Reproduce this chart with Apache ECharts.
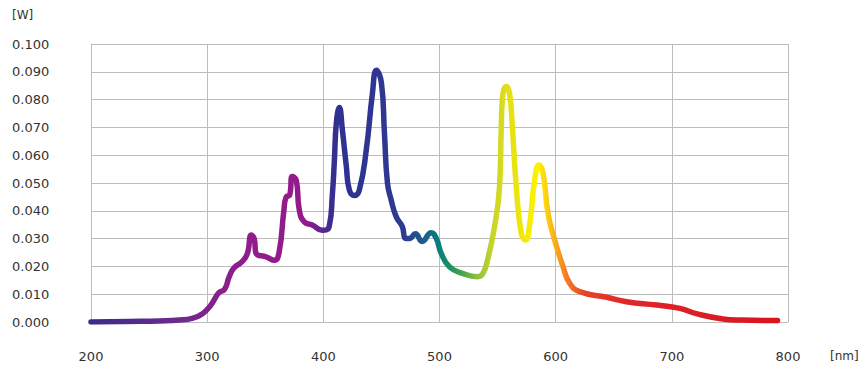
<!DOCTYPE html>
<html>
<head>
<meta charset="utf-8">
<script src="https://cdn.jsdelivr.net/npm/echarts@6/dist/echarts.min.js"></script>
<style>
html,body{margin:0;padding:0;background:#fff;}
#chart{width:866px;height:374px;}
</style>
</head>
<body>
<div id="chart"></div>
<script>
// Wavelength (nm)
var wavelengths = [200, 233, 259, 276, 287, 296, 303, 310, 315, 319, 323, 330, 334.5, 338, 340.5, 342, 351, 358, 362, 366, 368, 371, 373.3, 376.7, 379.3, 383.6, 390.5, 399, 405, 407.8, 409.5, 411.2, 413.8, 416.4, 419.8, 422.4, 426.7, 431, 437, 442.2, 445.7, 450, 452.6, 455.2, 458.4, 462.7, 468, 470.7, 474, 479.3, 485, 492.8, 497.2, 501.5, 508.6, 519.8, 532.8, 537.1, 541.4, 547.4, 551.7, 553.2, 554.3, 557.5, 560.3, 562.7, 566.1, 570.4, 574.1, 577.6, 581.9, 585.6, 589.1, 593.4, 599.1, 606.3, 612.1, 620.7, 644, 661, 687, 707, 722, 744, 759, 791];
// Power (W)
var power = [0, 0.0002, 0.0004, 0.0007, 0.0013, 0.0030, 0.006, 0.0105, 0.0118, 0.0163, 0.0194, 0.0217, 0.0245, 0.0313, 0.030, 0.0248, 0.0234, 0.0222, 0.0253, 0.040, 0.045, 0.0457, 0.0523, 0.051, 0.0403, 0.036, 0.0349, 0.033, 0.0343, 0.046, 0.058, 0.0716, 0.0772, 0.069, 0.056, 0.0475, 0.0455, 0.0475, 0.062, 0.082, 0.0906, 0.086, 0.068, 0.050, 0.0439, 0.0379, 0.0343, 0.0301, 0.030, 0.0317, 0.029, 0.0321, 0.0301, 0.0247, 0.0199, 0.0175, 0.0163, 0.0172, 0.0223, 0.0343, 0.0487, 0.0703, 0.081, 0.0847, 0.0822, 0.0703, 0.0487, 0.0319, 0.0295, 0.035, 0.0511, 0.0565, 0.0535, 0.039, 0.0295, 0.0199, 0.0139, 0.0109, 0.0089, 0.0073, 0.0061, 0.0049, 0.0029, 0.0011, 0.0007, 0.0005];
// Colour stops along the spectrum (nm -> colour)
var colorStopNm = [200, 280, 315, 385, 402, 412, 470, 485, 498, 507, 518, 532, 545, 560, 585, 598, 610, 625, 660, 791];
var colorStopColors = ['#3a2e88', '#6e2a8e', '#8c1e8b', '#951a8a', '#4a2a8e', '#2e3192', '#2e3a92', '#1e5a8c', '#0a7a82', '#109068', '#3fa24a', '#8cc03c', '#c6d42c', '#e4e014', '#fff200', '#f9b51a', '#f47a24', '#e8432a', '#e1262a', '#d8141e'];
var xTicks = [200, 300, 400, 500, 600, 700, 800];
var yTickLabels = ['0.000','0.010','0.020','0.030','0.040','0.050','0.060','0.070','0.080','0.090','0.100'];

var seriesData = wavelengths.map(function (w, i) { return [w, power[i]]; });
var nmFirst = wavelengths[0], nmLast = wavelengths[wavelengths.length - 1];
var stops = colorStopNm.map(function (n, i) {
  return { offset: Math.min(1, Math.max(0, (n - nmFirst) / (nmLast - nmFirst))), color: colorStopColors[i] };
});

var chart = echarts.init(document.getElementById('chart'), null, { renderer: 'svg' });
var font = '"DejaVu Sans", sans-serif';
var gridColor = '#bdbdbd';
chart.setOption({
  animation: false,
  backgroundColor: '#ffffff',
  grid: { left: 91, right: 78, top: 44, bottom: 52, containLabel: false },
  xAxis: {
    type: 'value', min: xTicks[0], max: xTicks[xTicks.length - 1], interval: 100,
    axisLine: { show: true, lineStyle: { color: gridColor, width: 1 } },
    axisTick: { show: false },
    splitLine: { show: true, lineStyle: { color: gridColor, width: 1 } },
    axisLabel: { margin: 28, color: '#333', fontFamily: font, fontSize: 13 }
  },
  yAxis: {
    type: 'value', min: 0, max: 0.1, interval: 0.01,
    axisLine: { show: true, lineStyle: { color: gridColor, width: 1 } },
    axisTick: { show: false },
    splitLine: { show: true, lineStyle: { color: gridColor, width: 1 } },
    axisLabel: {
      margin: 79, align: 'left', color: '#333', fontFamily: font, fontSize: 13,
      formatter: function (v) { return yTickLabels[Math.round(v * 100)]; }
    }
  },
  graphic: [
    { type: 'text', left: 12, top: 9, style: { text: '[W]', fill: '#333', font: '12px ' + font } },
    { type: 'text', left: 830, top: 350, style: { text: '[nm]', fill: '#333', font: '12px ' + font } }
  ],
  series: [{
    type: 'line',
    data: seriesData,
    showSymbol: false,
    smooth: 0.5,
    lineStyle: {
      width: 5.5, cap: 'round', join: 'round',
      color: new echarts.graphic.LinearGradient(0, 0, 1, 0, stops)
    }
  }]
});
</script>
</body>
</html>
